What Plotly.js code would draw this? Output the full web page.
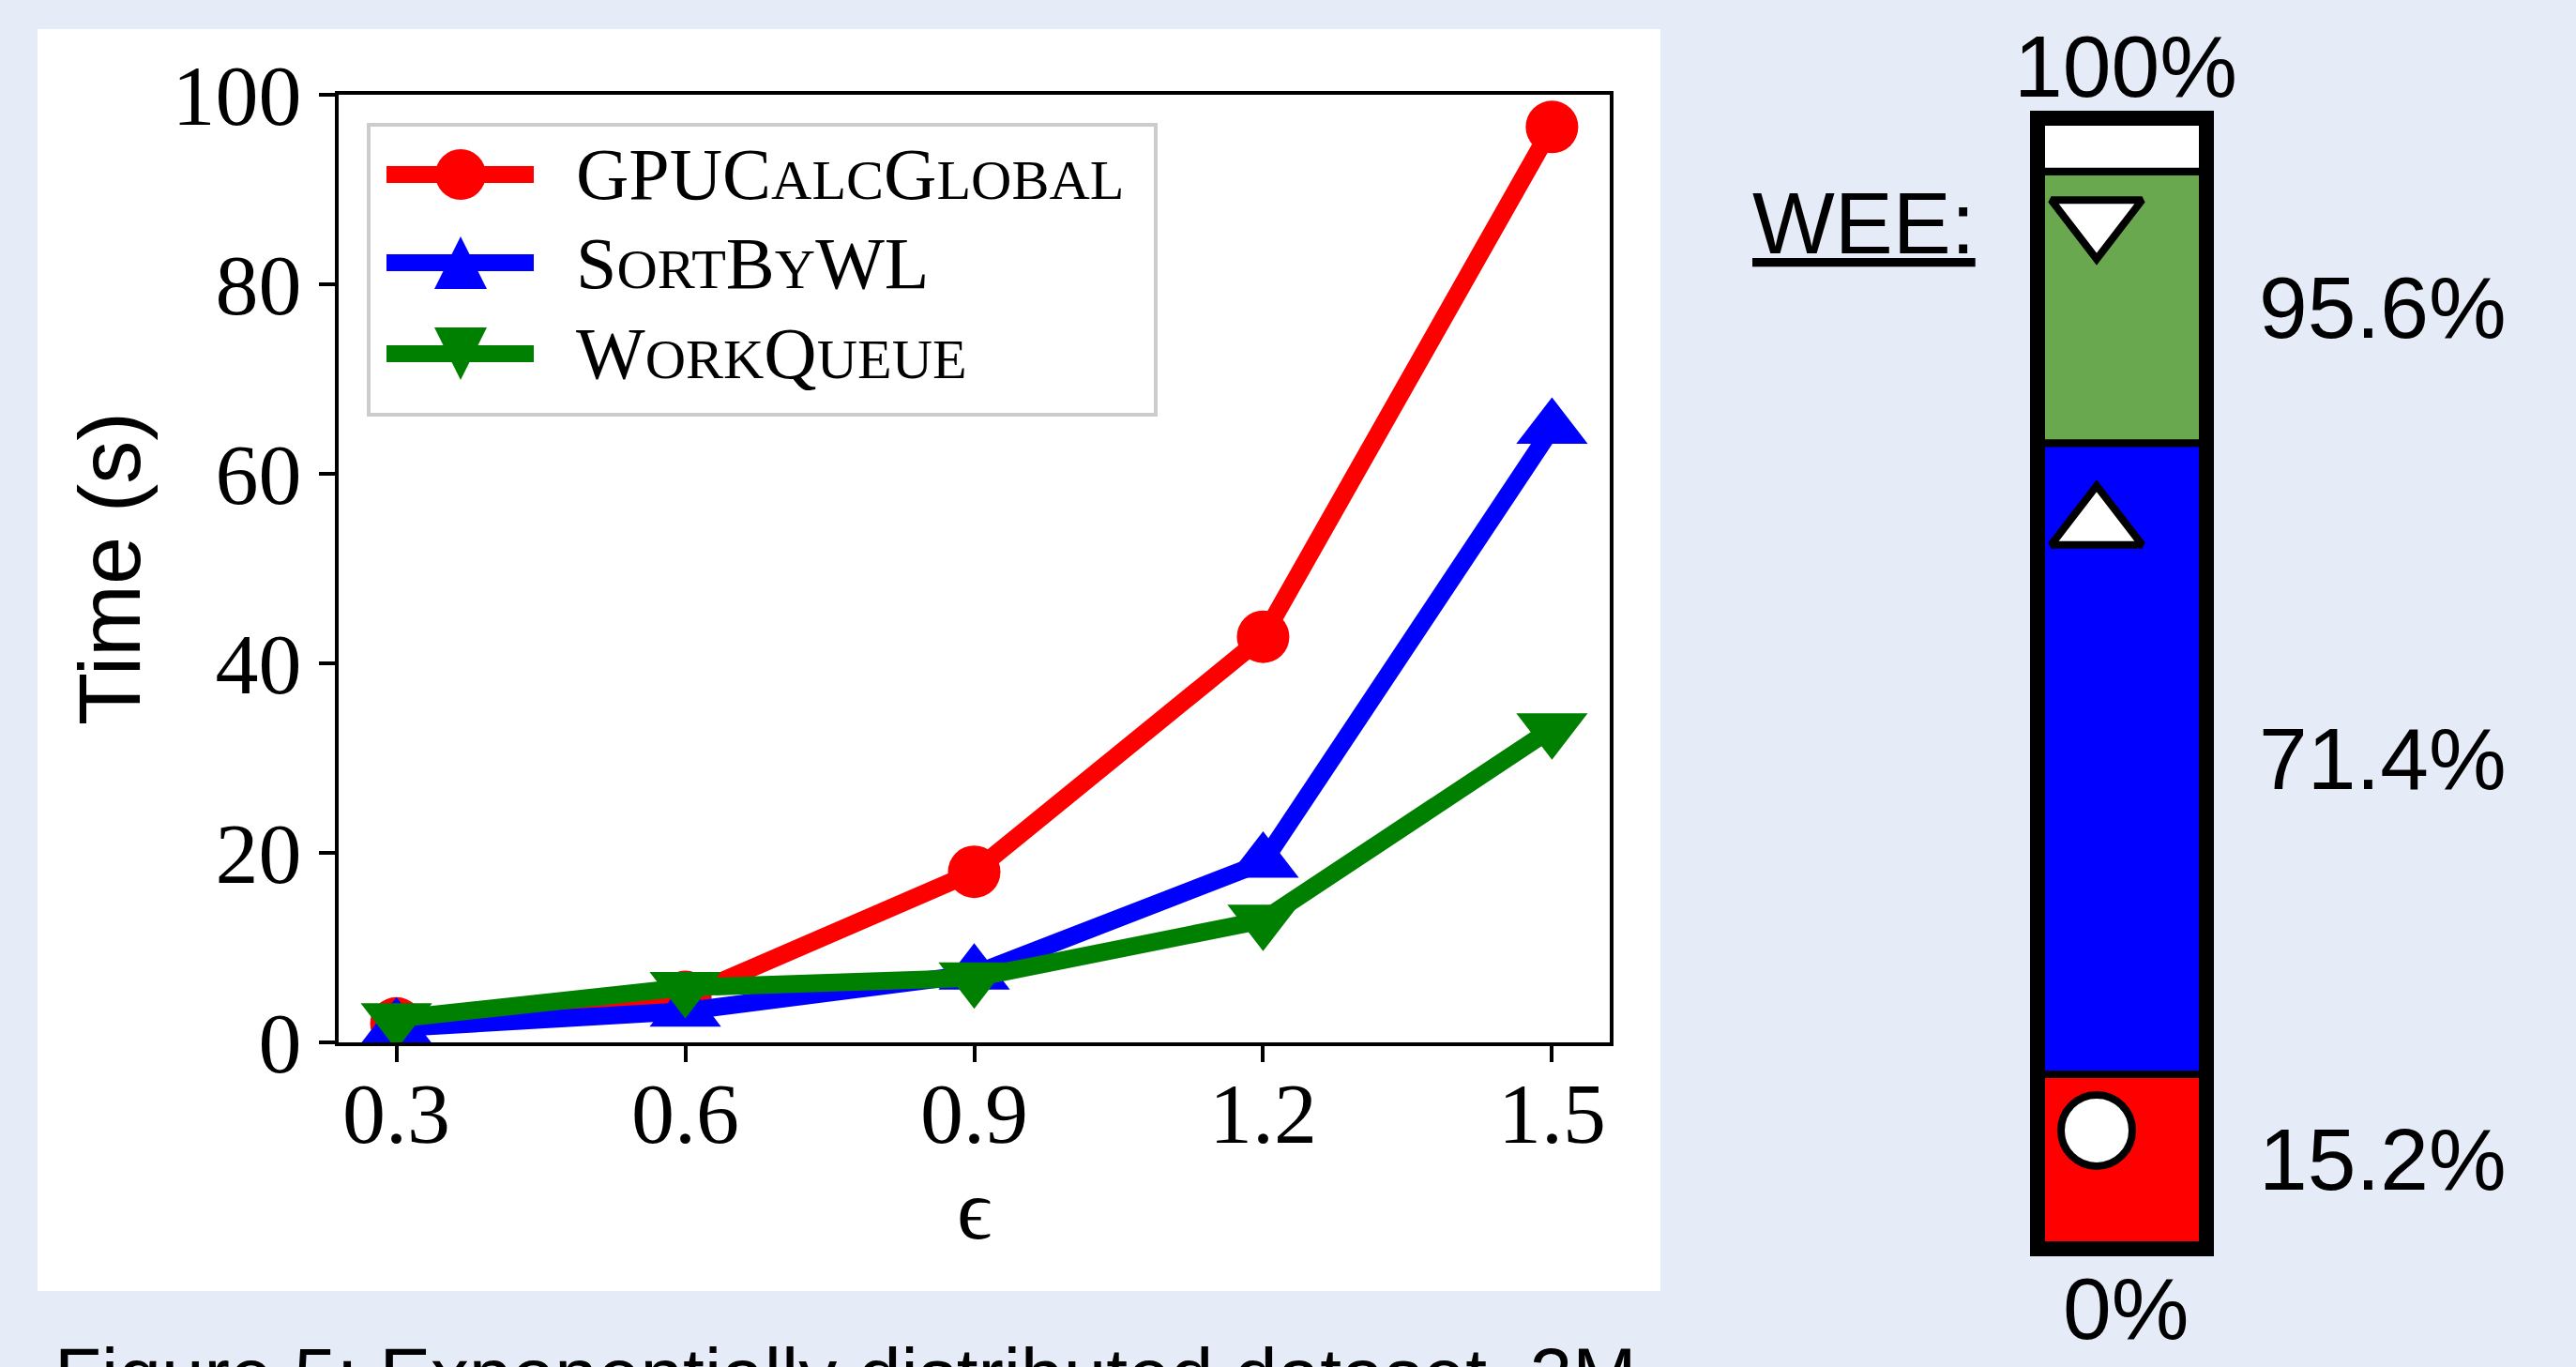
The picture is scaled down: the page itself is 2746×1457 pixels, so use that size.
<!DOCTYPE html>
<html>
<head>
<meta charset="utf-8">
<script src="https://cdn.plot.ly/plotly-3.0.1.min.js"></script>
<style>
html, body { margin: 0; padding: 0; background: #e5ecf7; }
#chart { width: 2746px; height: 1457px; }
</style>
</head>
<body>
<div id="chart"></div>
<script>
// ---------------- data ----------------
const epsilon = [0.3, 0.6, 0.9, 1.2, 1.5];
const epsilonTickText = ['0.3', '0.6', '0.9', '1.2', '1.5'];
const timeTicks = [0, 20, 40, 60, 80, 100];
const timeTickText = ['0', '20', '40', '60', '80', '100'];
const gpuCalcGlobal = [2.0, 4.8, 18.0, 42.8, 96.6];
const sortByWL = [1.5, 3.3, 7.2, 19.0, 64.8];
const workQueue = [2.5, 5.8, 6.8, 12.9, 33.1];
const seriesNames = ['GPUCalcGlobal', 'SortByWL', 'WorkQueue'];
const weeLevels = [15.2, 71.4, 95.6, 100];      // cumulative WEE boundaries (%)
const weeIconLevels = [10.2, 64.1, 91.3];       // icon positions inside the bar (%)
const weeTitle = 'WEE:';
const captionText = 'Figure 5: Exponentially distributed dataset, 2M';
const xTitle = '\u03F5';
const yTitle = 'Time (s)';

// ---------------- helpers (layout only) ----------------
const W = 2746, H = 1457;
const px = v => v / W;
const py = v => 1 - v / H;
const colors = ['#ff0000', '#0000ff', '#008000'];
const symbols = ['circle', 'triangle-up', 'triangle-down'];
const markerSizes = [56, 66, 66];
const serif = 'Liberation Serif, DejaVu Serif, serif';
const sans = 'Liberation Sans, Arial, sans-serif';

function smallCaps(name, small) {
  let out = '';
  let buf = '';
  for (const ch of name) {
    if (ch === ch.toUpperCase()) {
      if (buf) { out += '<span style="font-size:' + small + 'px">' + buf + '</span>'; buf = ''; }
      out += ch;
    } else {
      buf += ch.toUpperCase();
    }
  }
  if (buf) out += '<span style="font-size:' + small + 'px">' + buf + '</span>';
  return out;
}

// ---------------- traces ----------------
const seriesValues = [gpuCalcGlobal, sortByWL, workQueue];
const traces = seriesValues.map((ys, i) => ({
  type: 'scatter',
  mode: 'lines+markers',
  x: epsilon,
  y: ys,
  name: seriesNames[i],
  xaxis: 'x', yaxis: 'y',
  line: { color: colors[i], width: 19 },
  marker: { symbol: symbols[i], size: markerSizes[i], color: colors[i], opacity: 1, line: { width: 0 } },
  showlegend: false,
  cliponaxis: true
}));

const weeBases = weeLevels.map((v, i) => (i === 0 ? 0 : weeLevels[i - 1]));
const weeHeights = weeLevels.map((v, i) => v - weeBases[i]);
traces.push({
  type: 'bar',
  x: weeLevels.map(() => 0),
  y: weeHeights,
  base: weeBases,
  width: 1,
  xaxis: 'x2', yaxis: 'y2',
  marker: { color: ['#ff0000', '#0000ff', '#6aa84f', '#ffffff'], line: { color: '#000000', width: 8 } },
  showlegend: false,
  hoverinfo: 'skip'
});
traces.push({
  type: 'scatter',
  mode: 'markers',
  x: weeIconLevels.map(() => -0.157),
  y: weeIconLevels,
  xaxis: 'x2', yaxis: 'y2',
  marker: { symbol: symbols, size: [76, 84, 84], color: '#ffffff', opacity: 1, line: { color: '#000000', width: 8 } },
  showlegend: false,
  cliponaxis: false,
  hoverinfo: 'skip'
});

// ---------------- shapes ----------------
const shapes = [
  { type: 'rect', xref: 'paper', yref: 'paper', x0: px(40), x1: px(1770), y0: py(1376), y1: py(31),
    fillcolor: '#ffffff', line: { width: 0 }, layer: 'below' },
  { type: 'rect', xref: 'paper', yref: 'paper', x0: px(393), x1: px(1232), y0: py(442), y1: py(133),
    fillcolor: '#ffffff', line: { color: '#cccccc', width: 4 } }
];
const legendRows = [186, 280, 377];
legendRows.forEach((ry, i) => {
  shapes.push({ type: 'line', xref: 'paper', yref: 'paper', x0: px(412), x1: px(569), y0: py(ry), y1: py(ry),
    line: { color: colors[i], width: 18 } });
});
shapes.push({ type: 'circle', xref: 'paper', yref: 'paper', xsizemode: 'pixel', ysizemode: 'pixel',
  xanchor: px(491), yanchor: py(legendRows[0]), x0: -27, x1: 27, y0: -27, y1: 27,
  fillcolor: colors[0], line: { width: 0 } });
shapes.push({ type: 'path', xref: 'paper', yref: 'paper', xsizemode: 'pixel', ysizemode: 'pixel',
  xanchor: px(491), yanchor: py(legendRows[1]), path: 'M-28,-28 L28,-28 L0,28 Z',
  fillcolor: colors[1], line: { width: 0 } });
shapes.push({ type: 'path', xref: 'paper', yref: 'paper', xsizemode: 'pixel', ysizemode: 'pixel',
  xanchor: px(491), yanchor: py(legendRows[2]), path: 'M-28,28 L28,28 L0,-28 Z',
  fillcolor: colors[2], line: { width: 0 } });

// ---------------- annotations ----------------
const annotations = [];
seriesNames.forEach((n, i) => {
  annotations.push({ xref: 'paper', yref: 'paper', x: px(612), y: py(legendRows[i]), xanchor: 'left', yanchor: 'middle',
    text: smallCaps(n, 60), showarrow: false, font: { family: serif, size: 78, color: '#000' } });
});
const pctFont = { family: sans, size: 93, color: '#000' };
annotations.push({ xref: 'paper', yref: 'paper', x: px(1866), y: py(238), xanchor: 'left', yanchor: 'middle',
  text: '<u>' + weeTitle + '</u>', showarrow: false, font: pctFont });
annotations.push({ xref: 'paper', yref: 'paper', x: px(2266), y: py(71), xanchor: 'center', yanchor: 'middle',
  text: weeLevels[weeLevels.length - 1] + '%', showarrow: false, font: pctFont });
annotations.push({ xref: 'paper', yref: 'paper', x: px(2266), y: py(1395), xanchor: 'center', yanchor: 'middle',
  text: '0%', showarrow: false, font: pctFont });
for (let i = 0; i < 3; i++) {
  annotations.push({ xref: 'paper', yref: 'y2', x: px(2406), y: (weeBases[i] + weeLevels[i]) / 2,
    xanchor: 'left', yanchor: 'middle', text: weeLevels[i].toFixed(1) + '%', showarrow: false, font: pctFont });
}
annotations.push({ xref: 'paper', yref: 'paper', x: px(56), y: py(1418), xanchor: 'left', yanchor: 'top',
  text: captionText, showarrow: false, font: { family: sans, size: 82, color: '#000' } });

// ---------------- layout ----------------
const baseAxis = {
  showline: true, linecolor: '#000', linewidth: 4, mirror: true,
  showgrid: false, zeroline: false,
  ticks: 'outside', ticklen: 17, tickwidth: 4, tickcolor: '#000',
  tickfont: { family: serif, size: 92, color: '#000' },
  fixedrange: true
};
const layout = {
  width: W, height: H, autosize: false,
  margin: { l: 0, r: 0, t: 0, b: 0, pad: 0 },
  paper_bgcolor: '#e5ecf7',
  plot_bgcolor: '#ffffff',
  showlegend: false,
  xaxis: Object.assign({}, baseAxis, {
    domain: [px(361), px(1716)], range: [0.24, 1.56], anchor: 'y',
    tickmode: 'array', tickvals: epsilon, ticktext: epsilonTickText,
    ticklabelstandoff: -24,
    title: { text: xTitle, font: { family: serif, size: 92, color: '#000' }, standoff: 18 }
  }),
  yaxis: Object.assign({}, baseAxis, {
    domain: [py(1111), py(101)], range: [0, 100], anchor: 'x',
    tickmode: 'array', tickvals: timeTicks, ticktext: timeTickText,
    title: { text: yTitle, font: { family: sans, size: 92, color: '#000' }, standoff: 4 }
  }),
  xaxis2: {
    domain: [px(2176), px(2348)], range: [-0.5, 0.5], anchor: 'y2',
    showline: true, linecolor: '#000', linewidth: 12, mirror: true,
    showgrid: false, zeroline: false, showticklabels: false, ticks: '', fixedrange: true
  },
  yaxis2: {
    domain: [py(1327), py(130)], range: [0, 100], anchor: 'x2',
    showline: true, linecolor: '#000', linewidth: 12, mirror: true,
    showgrid: false, zeroline: false, showticklabels: false, ticks: '', fixedrange: true
  },
  shapes: shapes,
  annotations: annotations
};

Plotly.newPlot('chart', traces, layout, { displayModeBar: false, staticPlot: true });
</script>
</body>
</html>
